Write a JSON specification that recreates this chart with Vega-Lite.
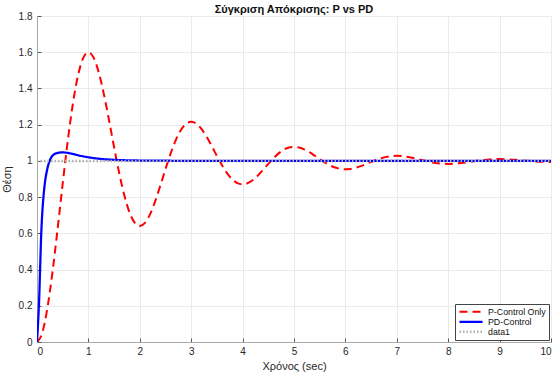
{
  "$schema": "https://vega.github.io/schema/vega-lite/v6.json",
  "width": 514,
  "height": 326,
  "autosize": {"type": "none"},
  "padding": {"left": 37, "top": 16, "right": 4, "bottom": 32},
  "background": "white",
  "config": {
    "font": "Liberation Sans",
    "view": {"stroke": null},
    "axis": {
      "domainColor": "#a8a8a8",
      "domainWidth": 1,
      "gridColor": "#ebebeb",
      "gridWidth": 1,
      "tickColor": "#555555",
      "tickSize": -4,
      "labelColor": "#262626",
      "labelFontSize": 10,
      "titleFontSize": 11,
      "titleFontWeight": "normal",
      "titleColor": "#262626"
    }
  },
  "title": {"text": "Σύγκριση Απόκρισης: P vs PD", "fontSize": 11, "fontWeight": "bold", "color": "#111111", "anchor": "middle", "offset": -4},
  "data": {"values": [
    {"t":0,"y":0,"s":"P-Control Only"},
    {"t":0.1,"y":0.0487,"s":"P-Control Only"},
    {"t":0.2,"y":0.1836,"s":"P-Control Only"},
    {"t":0.3,"y":0.3833,"s":"P-Control Only"},
    {"t":0.4,"y":0.6225,"s":"P-Control Only"},
    {"t":0.5,"y":0.8745,"s":"P-Control Only"},
    {"t":0.6,"y":1.114,"s":"P-Control Only"},
    {"t":0.7,"y":1.3194,"s":"P-Control Only"},
    {"t":0.8,"y":1.4743,"s":"P-Control Only"},
    {"t":0.9,"y":1.5689,"s":"P-Control Only"},
    {"t":1.0,"y":1.5999,"s":"P-Control Only"},
    {"t":1.1,"y":1.5707,"s":"P-Control Only"},
    {"t":1.2,"y":1.4898,"s":"P-Control Only"},
    {"t":1.3,"y":1.37,"s":"P-Control Only"},
    {"t":1.4,"y":1.2265,"s":"P-Control Only"},
    {"t":1.5,"y":1.0753,"s":"P-Control Only"},
    {"t":1.6,"y":0.9316,"s":"P-Control Only"},
    {"t":1.7,"y":0.8084,"s":"P-Control Only"},
    {"t":1.8,"y":0.7155,"s":"P-Control Only"},
    {"t":1.9,"y":0.6587,"s":"P-Control Only"},
    {"t":2.0,"y":0.6401,"s":"P-Control Only"},
    {"t":2.1,"y":0.6576,"s":"P-Control Only"},
    {"t":2.2,"y":0.7061,"s":"P-Control Only"},
    {"t":2.3,"y":0.778,"s":"P-Control Only"},
    {"t":2.4,"y":0.8641,"s":"P-Control Only"},
    {"t":2.5,"y":0.9548,"s":"P-Control Only"},
    {"t":2.6,"y":1.041,"s":"P-Control Only"},
    {"t":2.7,"y":1.115,"s":"P-Control Only"},
    {"t":2.8,"y":1.1707,"s":"P-Control Only"},
    {"t":2.9,"y":1.2047,"s":"P-Control Only"},
    {"t":3.0,"y":1.2159,"s":"P-Control Only"},
    {"t":3.1,"y":1.2054,"s":"P-Control Only"},
    {"t":3.2,"y":1.1763,"s":"P-Control Only"},
    {"t":3.3,"y":1.1331,"s":"P-Control Only"},
    {"t":3.4,"y":1.0815,"s":"P-Control Only"},
    {"t":3.5,"y":1.0271,"s":"P-Control Only"},
    {"t":3.6,"y":0.9754,"s":"P-Control Only"},
    {"t":3.7,"y":0.931,"s":"P-Control Only"},
    {"t":3.8,"y":0.8976,"s":"P-Control Only"},
    {"t":3.9,"y":0.8772,"s":"P-Control Only"},
    {"t":4.0,"y":0.8705,"s":"P-Control Only"},
    {"t":4.1,"y":0.8768,"s":"P-Control Only"},
    {"t":4.2,"y":0.8942,"s":"P-Control Only"},
    {"t":4.3,"y":0.9201,"s":"P-Control Only"},
    {"t":4.4,"y":0.9511,"s":"P-Control Only"},
    {"t":4.5,"y":0.9838,"s":"P-Control Only"},
    {"t":4.6,"y":1.0148,"s":"P-Control Only"},
    {"t":4.7,"y":1.0414,"s":"P-Control Only"},
    {"t":4.8,"y":1.0615,"s":"P-Control Only"},
    {"t":4.9,"y":1.0737,"s":"P-Control Only"},
    {"t":5.0,"y":1.0777,"s":"P-Control Only"},
    {"t":5.1,"y":1.0739,"s":"P-Control Only"},
    {"t":5.2,"y":1.0635,"s":"P-Control Only"},
    {"t":5.3,"y":1.048,"s":"P-Control Only"},
    {"t":5.4,"y":1.0293,"s":"P-Control Only"},
    {"t":5.5,"y":1.0098,"s":"P-Control Only"},
    {"t":5.6,"y":0.9911,"s":"P-Control Only"},
    {"t":5.7,"y":0.9752,"s":"P-Control Only"},
    {"t":5.8,"y":0.9632,"s":"P-Control Only"},
    {"t":5.9,"y":0.9558,"s":"P-Control Only"},
    {"t":6.0,"y":0.9534,"s":"P-Control Only"},
    {"t":6.1,"y":0.9556,"s":"P-Control Only"},
    {"t":6.2,"y":0.9619,"s":"P-Control Only"},
    {"t":6.3,"y":0.9712,"s":"P-Control Only"},
    {"t":6.4,"y":0.9824,"s":"P-Control Only"},
    {"t":6.5,"y":0.9942,"s":"P-Control Only"},
    {"t":6.6,"y":1.0053,"s":"P-Control Only"},
    {"t":6.7,"y":1.0149,"s":"P-Control Only"},
    {"t":6.8,"y":1.0221,"s":"P-Control Only"},
    {"t":6.9,"y":1.0265,"s":"P-Control Only"},
    {"t":7.0,"y":1.028,"s":"P-Control Only"},
    {"t":7.1,"y":1.0266,"s":"P-Control Only"},
    {"t":7.2,"y":1.0229,"s":"P-Control Only"},
    {"t":7.3,"y":1.0173,"s":"P-Control Only"},
    {"t":7.4,"y":1.0106,"s":"P-Control Only"},
    {"t":7.5,"y":1.0035,"s":"P-Control Only"},
    {"t":7.6,"y":0.9968,"s":"P-Control Only"},
    {"t":7.7,"y":0.991,"s":"P-Control Only"},
    {"t":7.8,"y":0.9867,"s":"P-Control Only"},
    {"t":7.9,"y":0.9841,"s":"P-Control Only"},
    {"t":8.0,"y":0.9832,"s":"P-Control Only"},
    {"t":8.1,"y":0.984,"s":"P-Control Only"},
    {"t":8.2,"y":0.9863,"s":"P-Control Only"},
    {"t":8.3,"y":0.9896,"s":"P-Control Only"},
    {"t":8.4,"y":0.9937,"s":"P-Control Only"},
    {"t":8.5,"y":0.9979,"s":"P-Control Only"},
    {"t":8.6,"y":1.0019,"s":"P-Control Only"},
    {"t":8.7,"y":1.0053,"s":"P-Control Only"},
    {"t":8.8,"y":1.008,"s":"P-Control Only"},
    {"t":8.9,"y":1.0096,"s":"P-Control Only"},
    {"t":9.0,"y":1.0101,"s":"P-Control Only"},
    {"t":9.1,"y":1.0096,"s":"P-Control Only"},
    {"t":9.2,"y":1.0082,"s":"P-Control Only"},
    {"t":9.3,"y":1.0062,"s":"P-Control Only"},
    {"t":9.4,"y":1.0038,"s":"P-Control Only"},
    {"t":9.5,"y":1.0013,"s":"P-Control Only"},
    {"t":9.6,"y":0.9989,"s":"P-Control Only"},
    {"t":9.7,"y":0.9968,"s":"P-Control Only"},
    {"t":9.8,"y":0.9952,"s":"P-Control Only"},
    {"t":9.9,"y":0.9942,"s":"P-Control Only"},
    {"t":10.0,"y":0.994,"s":"P-Control Only"},
    {"t":0,"y":0,"s":"PD-Control"},
    {"t":0.02,"y":0.1,"s":"PD-Control"},
    {"t":0.04,"y":0.22,"s":"PD-Control"},
    {"t":0.06,"y":0.4,"s":"PD-Control"},
    {"t":0.08,"y":0.58,"s":"PD-Control"},
    {"t":0.1,"y":0.7,"s":"PD-Control"},
    {"t":0.125,"y":0.8,"s":"PD-Control"},
    {"t":0.15,"y":0.87,"s":"PD-Control"},
    {"t":0.2,"y":0.955,"s":"PD-Control"},
    {"t":0.25,"y":1.003,"s":"PD-Control"},
    {"t":0.3,"y":1.028,"s":"PD-Control"},
    {"t":0.4,"y":1.044,"s":"PD-Control"},
    {"t":0.5,"y":1.047,"s":"PD-Control"},
    {"t":0.6,"y":1.044,"s":"PD-Control"},
    {"t":0.7,"y":1.038,"s":"PD-Control"},
    {"t":0.8,"y":1.031,"s":"PD-Control"},
    {"t":1.0,"y":1.02,"s":"PD-Control"},
    {"t":1.2,"y":1.012,"s":"PD-Control"},
    {"t":1.5,"y":1.006,"s":"PD-Control"},
    {"t":2.0,"y":1.002,"s":"PD-Control"},
    {"t":2.5,"y":1.001,"s":"PD-Control"},
    {"t":3.0,"y":1.0,"s":"PD-Control"},
    {"t":10.0,"y":1.0,"s":"PD-Control"},
    {"t":0,"y":1,"s":"data1"},
    {"t":10,"y":1,"s":"data1"}
  ]},
  "mark": {"type": "line", "interpolate": "monotone", "clip": true},
  "encoding": {
    "x": {"field": "t", "type": "quantitative", "scale": {"domain": [0, 10], "nice": false},
      "axis": {"values": [0,1,2,3,4,5,6,7,8,9,10], "title": "Χρόνος (sec)", "labelPadding": 8, "titlePadding": 4}},
    "y": {"field": "y", "type": "quantitative", "scale": {"domain": [0, 1.8], "nice": false},
      "axis": {"values": [0,0.2,0.4,0.6,0.8,1,1.2,1.4,1.6,1.8], "format": "~g", "title": "Θέση", "labelPadding": 9, "titlePadding": 6}},
    "color": {"field": "s", "type": "nominal",
      "scale": {"domain": ["P-Control Only", "PD-Control", "data1"], "range": ["#ff0000", "#0000ff", "#b0b0b0"]},
      "legend": {"title": null, "orient": "none", "legendX": 418, "legendY": 288, "symbolType": "stroke", "symbolSize": 529,
        "clipHeight": 9.5,
        "labelFontSize": 8.8, "labelColor": "#111111", "rowPadding": 0, "padding": 3, "strokeColor": "#444444", "fillColor": "white",
        "symbolOffset": 0, "labelOffset": 4, "labelLimit": 200}},
    "strokeDash": {"field": "s", "type": "nominal",
      "scale": {"domain": ["P-Control Only", "PD-Control", "data1"], "range": [[8,5],[1,0],[1.5,2]]}},
    "strokeWidth": {"field": "s", "type": "nominal",
      "scale": {"domain": ["P-Control Only", "PD-Control", "data1"], "range": [2, 2.5, 1]}},
    "order": {"field": "t", "type": "quantitative"}
  }
}
